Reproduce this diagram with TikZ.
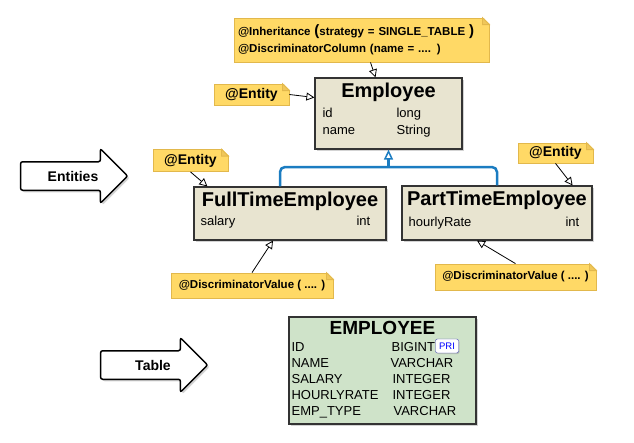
\documentclass[tikz,border=0pt]{standalone}
\usepackage{fontspec}
\setmainfont{Liberation Sans}
\usepackage{tikz}
\usetikzlibrary{positioning,shapes.arrows,shadows,arrows.meta}
\definecolor{noteFill}{HTML}{FFD966}
\definecolor{noteLine}{HTML}{E2B84C}
\definecolor{noteFold}{HTML}{F0C75A}
\definecolor{classFill}{HTML}{E8E4D0}
\definecolor{tableFill}{HTML}{CFE3C9}
\definecolor{inheritBlue}{HTML}{1B7CC1}

% folded corner of a note
\newcommand{\notefold}[1]{%
  \fill[white] ([xshift=-7pt,yshift=1pt]#1.north east) -- ([xshift=1pt,yshift=1pt]#1.north east) -- ([xshift=1pt,yshift=-7pt]#1.north east) -- cycle;
  \filldraw[fill=noteFold, draw=noteLine, line width=0.8pt] ([xshift=-7pt]#1.north east) -- ([xshift=-7pt,yshift=-7pt]#1.north east) -- ([yshift=-7pt]#1.north east) -- cycle;
}

\begin{document}
\begin{tikzpicture}[x=1pt, y=-1pt, node distance=1cm]
  % Define styles for boxes
  \tikzset{
    classbox/.style={
      rectangle,
      draw=black!80,
      line width=1.2pt,
      fill=classFill,
      inner sep=0pt,
      drop shadow={shadow xshift=2pt, shadow yshift=-2pt, opacity=0.35}
    },
    tablebox/.style={
      classbox,
      fill=tableFill
    },
    note/.style={
      rectangle,
      draw=noteLine,
      line width=0.8pt,
      fill=noteFill,
      inner sep=0pt,
      text centered,
      font=\bfseries\fontsize{14}{16}\selectfont
    },
    smallnote/.style={
      note,
      font=\bfseries\fontsize{11.5}{17}\selectfont
    },
    bigarrow/.style={
      single arrow,
      draw,
      line width=1.5pt,
      fill=white,
      rounded corners=2pt,
      minimum height=107pt,
      single arrow head extend=13pt,
      inner ysep=0pt,
      text height=18.5pt,
      text depth=8.5pt,
      font=\bfseries\fontsize{14}{16}\selectfont,
      drop shadow={shadow xshift=2pt, shadow yshift=-2pt, opacity=0.35}
    },
    titletext/.style={anchor=base, inner sep=0pt, font=\bfseries\fontsize{20}{24}\selectfont},
    fieldtext/.style={anchor=base west, inner sep=0pt, font=\fontsize{13}{15}\selectfont},
    notearrow/.style={-{Triangle[open, length=8pt, width=8pt]}, line width=0.8pt},
    inherit/.style={draw=inheritBlue, line width=2.5pt, rounded corners=5pt}
  }
  \useasboundingbox (0,0) rectangle (634,442);

  % Class boxes
  \node[classbox, minimum width=147pt, minimum height=71pt] (employeeBox) at (388.5,113.5) {};
  \node[titletext] (employeeTitle) at ([shift={(0,20)}]employeeBox.north) {Employee};
  \node[fieldtext] (employeeId) at ([shift={(8,40)}]employeeBox.north west) {id};
  \node[fieldtext] (employeeIdType) at ([shift={(82,40)}]employeeBox.north west) {long};
  \node[fieldtext] (employeeName) at ([shift={(8,57)}]employeeBox.north west) {name};
  \node[fieldtext] (employeeNameType) at ([shift={(82,57)}]employeeBox.north west) {String};

  \node[classbox, minimum width=192pt, minimum height=53pt] (fullTimeBox) at (290,213.5) {};
  \node[titletext] (fullTimeTitle) at ([shift={(0,20)}]fullTimeBox.north) {FullTimeEmployee};
  \node[fieldtext] (fullTimeSalary) at ([shift={(7,39)}]fullTimeBox.north west) {salary};
  \node[fieldtext] (fullTimeSalaryType) at ([shift={(163,39)}]fullTimeBox.north west) {int};

  \node[classbox, minimum width=190pt, minimum height=54pt] (partTimeBox) at (497,213) {};
  \node[titletext] (partTimeTitle) at ([shift={(0,20)}]partTimeBox.north) {PartTimeEmployee};
  \node[fieldtext] (partTimeRate) at ([shift={(7,41)}]partTimeBox.north west) {hourlyRate};
  \node[fieldtext] (partTimeRateType) at ([shift={(164,41)}]partTimeBox.north west) {int};

  % Inheritance lines
  \coordinate (inheritJoin) at (388.5,167);
  \draw[inherit] ([xshift=-10pt]fullTimeBox.north) |- (inheritJoin) -| (partTimeBox.north);
  \draw[inherit, -{Triangle[open, length=10pt, width=9pt, line width=1.5pt]}] (inheritJoin) -- (employeeBox.south);

  % Notes
  \node[smallnote, minimum width=255pt, minimum height=44pt, text width=247pt, align=left] (inheritNote) at (361.5,40)
    {@Inheritance {\fontsize{15}{17}\selectfont(}strategy = SINGLE\_TABLE {\fontsize{15}{17}\selectfont)}\\@DiscriminatorColumn (name = .... )};
  \node[note, minimum width=75pt, minimum height=21pt] (employeeEntity) at (251.5,94.5) {@Entity};
  \node[note, minimum width=75pt, minimum height=22pt] (fullTimeEntity) at (190.5,160.5) {@Entity};
  \node[note, minimum width=75pt, minimum height=20pt] (partTimeEntity) at (555.5,153) {@Entity};
  \node[smallnote, minimum width=162pt, minimum height=25pt] (fullTimeValue) at (252,285.5) {@DiscriminatorValue ( .... )};
  \node[smallnote, minimum width=161pt, minimum height=26pt] (partTimeValue) at (515.5,277) {@DiscriminatorValue ( .... )};
  \notefold{inheritNote}
  \notefold{employeeEntity}
  \notefold{fullTimeEntity}
  \notefold{partTimeEntity}
  \notefold{fullTimeValue}
  \notefold{partTimeValue}

  % Arrows from notes to classes
  \draw[notearrow] ([xshift=9pt]inheritNote.south) -- ([xshift=-13pt]employeeBox.north);
  \draw[notearrow] (employeeEntity.east) -- ([yshift=16pt]employeeBox.west);
  \draw[notearrow] (fullTimeEntity.south) -- ([xshift=14pt]fullTimeBox.north west);
  \draw[notearrow] (partTimeEntity.south) -- ([xshift=-20pt]partTimeBox.north east);
  \draw[notearrow] (fullTimeValue.north) -- ([xshift=-17pt]fullTimeBox.south);
  \draw[notearrow] (partTimeValue.north) -- ([xshift=-20pt]partTimeBox.south);

  % Table
  \node[tablebox, minimum width=187pt, minimum height=107pt] (tableBox) at (382.5,370.5) {};
  \node[titletext, font=\bfseries\fontsize{19}{22}\selectfont] (tableTitle) at ([shift={(0,18)}]tableBox.north) {EMPLOYEE};
  \node[fieldtext] (tableId) at ([shift={(3,35)}]tableBox.north west) {ID};
  \node[fieldtext] (tableIdType) at ([shift={(103,35)}]tableBox.north west) {BIGINT};
  \node[fieldtext] (tableName) at ([shift={(3,51)}]tableBox.north west) {NAME};
  \node[fieldtext] (tableNameType) at ([shift={(102,51)}]tableBox.north west) {VARCHAR};
  \node[fieldtext] (tableSalary) at ([shift={(3,67)}]tableBox.north west) {SALARY};
  \node[fieldtext] (tableSalaryType) at ([shift={(104,67)}]tableBox.north west) {INTEGER};
  \node[fieldtext] (tableRate) at ([shift={(3,83)}]tableBox.north west) {HOURLYRATE};
  \node[fieldtext] (tableRateType) at ([shift={(104,83)}]tableBox.north west) {INTEGER};
  \node[fieldtext] (tableType) at ([shift={(3,99)}]tableBox.north west) {EMP\_TYPE};
  \node[fieldtext] (tableTypeType) at ([shift={(105,99)}]tableBox.north west) {VARCHAR};
  \node[rectangle, rounded corners=2pt, draw=blue!40!gray, fill=white, text=blue, minimum width=23pt, minimum height=14pt, inner sep=0pt,
    font=\fontsize{9.5}{10}\selectfont, drop shadow={shadow xshift=1pt, shadow yshift=-1pt, opacity=0.35}] (priBadge) at (447,346) {PRI};

  % Labels on the left
  \node[bigarrow] (entitiesArrow) at (67,176) {\hspace*{12pt}Entities};
  \node[bigarrow] (tableArrow) at (147,365) {\hspace*{12pt}Table};
\end{tikzpicture}
\end{document}
